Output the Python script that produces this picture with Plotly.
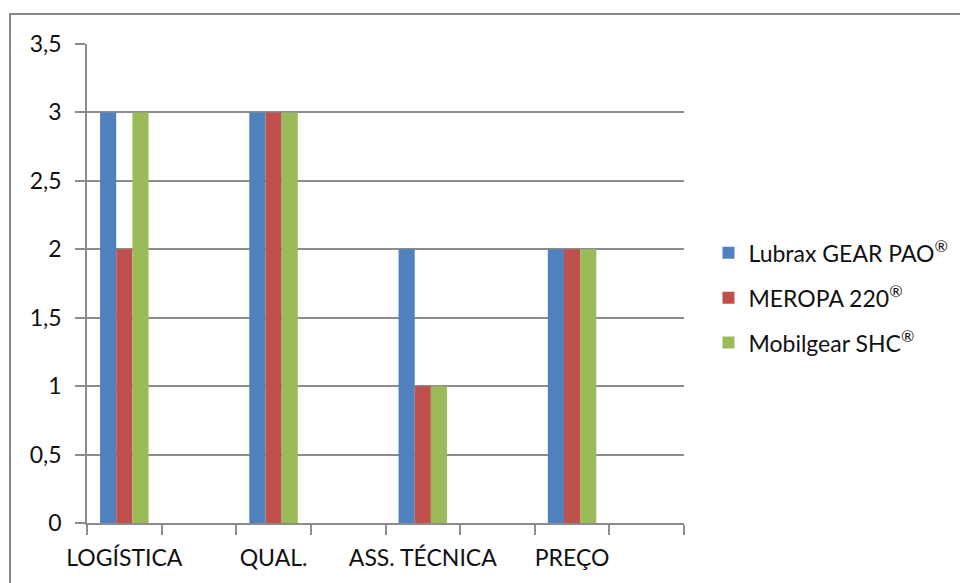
import plotly.graph_objects as go

categories = ["LOGÍSTICA", "QUAL.", "ASS. TÉCNICA", "PREÇO"]
series_names = ["Lubrax GEAR PAO<sup>®</sup>", "MEROPA 220<sup>®</sup>", "Mobilgear SHC<sup>®</sup>"]
lubrax = [3, 3, 2, 2]
meropa = [2, 3, 1, 2]
mobilgear = [3, 3, 1, 2]
colors = ["#4F81BD", "#C0504D", "#9BBB59"]
y_ticks = [0, 0.5, 1, 1.5, 2, 2.5, 3, 3.5]

# Excel-style: each category is followed by an empty slot -> positions 0, 2, 4, 6
x_pos = [2 * i for i in range(len(categories))]
x_range = [-0.5, 2 * len(categories) - 0.5]

fig = go.Figure()
for name, vals, col in zip(series_names, [lubrax, meropa, mobilgear], colors):
    fig.add_trace(go.Bar(
        x=x_pos, y=vals, name=name, marker_color=col,
        marker_line_width=0, legendgroup=name,
    ))
# carrier for the category-label axis
fig.add_trace(go.Scatter(x=[x_pos[0]], y=[0], xaxis="x2", mode="markers",
                         marker=dict(opacity=0), showlegend=False, hoverinfo="skip"))

font = dict(family="Lato, 'Noto Sans', sans-serif", size=23, color="#111111")
grid = "#8C8C8C"

fig.update_layout(
    width=968, height=583,
    margin=dict(l=79, r=292, t=36, b=68, autoexpand=False),
    paper_bgcolor="white", plot_bgcolor="white",
    barmode="group", bargap=0.675, bargroupgap=0,
    separators=", ",
    font=font,
    showlegend=True,
    legend=dict(
        x=1.041, y=0.47, xanchor="left", yanchor="middle",
        traceorder="grouped", tracegroupgap=12,
        font=font,
        itemwidth=30,
    ),
    xaxis=dict(
        range=x_range,
        tickmode="linear", tick0=-0.5, dtick=1, showticklabels=False,
        ticks="outside", ticklen=10, tickcolor=grid, tickwidth=1.5,
        automargin=False,
        showline=True, linecolor=grid, linewidth=1.5,
        showgrid=False, zeroline=False,
    ),
    xaxis2=dict(
        range=x_range, overlaying="x", anchor="y", side="bottom",
        tickmode="array", tickvals=x_pos, ticktext=categories,
        ticks="outside", ticklen=10, tickcolor="rgba(0,0,0,0)", tickangle=0,
        automargin=False, showline=False, showgrid=False, zeroline=False,
        tickfont=font, ticklabelstandoff=4,
    ),
    yaxis=dict(
        range=[0, 3.5], tickvals=y_ticks,
        ticks="outside", ticklen=10, tickcolor=grid, tickwidth=1.5,
        showgrid=True, gridcolor=grid, gridwidth=1.5,
        showline=True, linecolor=grid, linewidth=1.5, automargin=False,
        zeroline=False, tickfont=font, ticklabelstandoff=9,
    ),
    shapes=[dict(
        type="rect", xref="paper", yref="paper",
        x0=-0.129, x1=1.6, y0=-0.3, y1=1.0626,
        line=dict(color="#878787", width=2), fillcolor="rgba(0,0,0,0)", layer="below",
    )],
)

fig.write_html("out.html")
